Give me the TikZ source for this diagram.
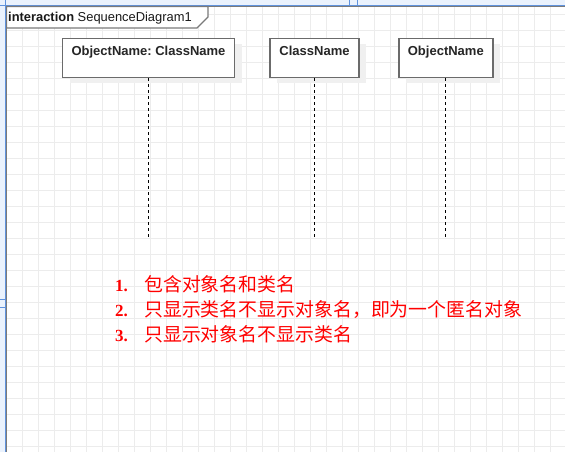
\documentclass[tikz,border=0pt]{standalone}
\usepackage{fontspec}
\setmainfont{Liberation Sans}
\newfontfamily\cjkfont{Noto Sans CJK SC}
\newfontfamily\numfont{Liberation Serif}
\usetikzlibrary{positioning, shadows}

\definecolor{gridgray}{HTML}{ECECEC}
\definecolor{chromeblue}{HTML}{EAF2FD}
\definecolor{rulerblue}{HTML}{5F92DD}
\definecolor{boxgray}{HTML}{6B6B6B}
\definecolor{framegray}{HTML}{7A7A7A}

\begin{document}
\begin{tikzpicture}[
        x=1pt, y=-1pt,
        gridline/.style={draw=gridgray, line width=1.2pt},
        lifebox/.style={rectangle, draw=boxgray, line width=1.4pt, fill=white, inner xsep=0pt, inner ysep=3pt,
            text height=14.2pt, text depth=18.8pt, text=black!85, font=\fontsize{13}{15}\selectfont\bfseries,
            drop shadow={shadow xshift=7pt, shadow yshift=-6pt, fill=black!6, opacity=1}},
        lifeline/.style={draw=black, dash pattern=on 3pt off 3pt, line width=1.2pt},
        numtext/.style={anchor=base west, inner sep=0pt, text=red, font=\numfont\fontsize{17}{19}\selectfont\bfseries},
        itemtext/.style={anchor=base west, inner sep=0pt, text=red, font=\cjkfont\fontsize{18.9}{20}\selectfont}
    ]

    \useasboundingbox (0,0) rectangle (565,452);

    % background grid
    \foreach \gx in {6.7,22.7,...,565} \draw [gridline] (\gx,0) -- (\gx,452);
    \foreach \gy in {14.7,30.7,...,452} \draw [gridline] (0,\gy) -- (565,\gy);

    % editor rulers
    \fill [chromeblue] (0,0) rectangle (565,5);
    \fill [chromeblue] (0,0) rectangle (5,452);
    \draw [rulerblue, line width=1pt] (0,5.5) -- (565,5.5);
    \draw [rulerblue, line width=1pt] (5.5,0) -- (5.5,452);
    \draw [rulerblue, line width=1pt] (349.5,0) -- (349.5,5) (357,0) -- (357,5);
    \draw [rulerblue, line width=1pt] (0,299.5) -- (5,299.5) (0,307) -- (5,307);

    % interaction frame
    \draw [framegray, line width=1.2pt] (6.6,452) -- (6.6,6.6) -- (565,6.6);
    \draw [framegray, line width=1.2pt, fill=white] (6.6,6.6) -- (208,6.6) -- (208,17) -- (197,28) -- (6.6,28) -- cycle;
    \node (frame) [anchor=base west, inner sep=0pt, font=\fontsize{12.9}{14}\selectfont, text=black!90] at (8,21.5)
        {\textbf{interaction} SequenceDiagram1};

    % lifelines
    \node (objcls) [lifebox, minimum width=172pt] at (148.5,57.8) {ObjectName:\ ClassName};
    \node (cls) [lifebox, minimum width=89pt] at (314.5,57.8) {ClassName};
    \node (obj) [lifebox, minimum width=94pt] at (445.8,57.8) {ObjectName};

    \coordinate (bottom) at (0,237);
    \draw [lifeline] (objcls.south) -- (objcls.south |- bottom);
    \draw [lifeline] (cls.south) -- (cls.south |- bottom);
    \draw [lifeline] (obj.south) -- (obj.south |- bottom);

    % notes
    \node (num1) [numtext] at (115,291) {1.};
    \node (item1) [itemtext] at (144,291) {包含对象名和类名};
    \node (num2) [numtext] at (115,316) {2.};
    \node (item2) [itemtext] at (144,316) {只显示类名不显示对象名，即为一个匿名对象};
    \node (num3) [numtext] at (115,341) {3.};
    \node (item3) [itemtext] at (144,341) {只显示对象名不显示类名};

\end{tikzpicture}
\end{document}
